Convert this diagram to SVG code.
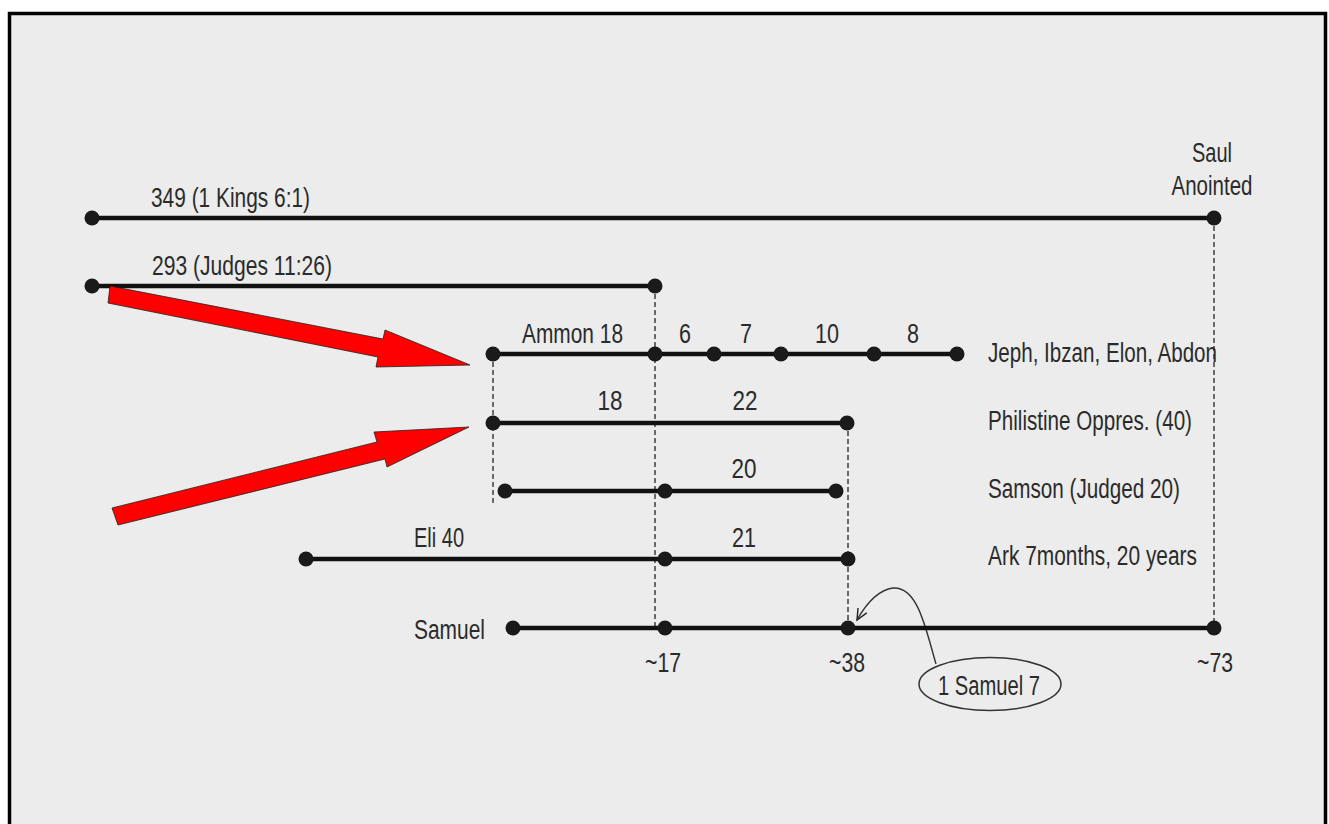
<svg xmlns="http://www.w3.org/2000/svg" width="1329" height="824" viewBox="0 0 1329 824">
<defs>
<style>
.t{font-family:"Liberation Sans",Arial,sans-serif;font-size:27px;fill:#2b2b2b}
.m{text-anchor:middle}
.ln{stroke:#111;stroke-width:4.5;fill:none}
.d{stroke:#333;stroke-width:1.4;stroke-dasharray:5,3;fill:none}
.dot{fill:#1a1a1a}
.red{fill:#ff0000;stroke:#222;stroke-width:0.8}
</style>
<marker id="ah" markerWidth="14" markerHeight="12" refX="12" refY="6" orient="auto" markerUnits="userSpaceOnUse">
<path d="M1,1 L12,6 L1,11" fill="none" stroke="#222" stroke-width="1.4"/>
</marker>
</defs>
<rect x="0" y="0" width="1329" height="824" fill="#ffffff"/>
<rect x="9.5" y="13.5" width="1316" height="830" fill="#ececec" stroke="#000" stroke-width="3.5"/>

<g id="connectors">
<line class="d" x1="1214" y1="218" x2="1214" y2="628"/>
<line class="d" x1="655" y1="286" x2="655" y2="628"/>
<line class="d" x1="493" y1="354" x2="493" y2="503"/>
<line class="d" x1="848" y1="423" x2="848" y2="628"/>
<path d="M936,664 C926,630 918,586 893,588 C878,590 866,604 857,620" fill="none" stroke="#333" stroke-width="1.4" marker-end="url(#ah)"/>
</g>

<g id="row-349">
<line class="ln" x1="92" y1="218" x2="1214" y2="218"/>
<circle class="dot" cx="92" cy="218" r="7.5"/>
<circle class="dot" cx="1214" cy="218" r="7.5"/>
<text class="t" x="151" y="207" textLength="159" lengthAdjust="spacingAndGlyphs">349 (1 Kings 6:1)</text>
</g>

<g id="saul">
<text class="t m" x="1212" y="162" textLength="40" lengthAdjust="spacingAndGlyphs">Saul</text>
<text class="t m" x="1212" y="195" textLength="81" lengthAdjust="spacingAndGlyphs">Anointed</text>
</g>

<g id="row-293">
<line class="ln" x1="92" y1="286" x2="655" y2="286"/>
<circle class="dot" cx="92" cy="286" r="7.5"/>
<circle class="dot" cx="655" cy="286" r="7.5"/>
<text class="t" x="152" y="275" textLength="180" lengthAdjust="spacingAndGlyphs">293 (Judges 11:26)</text>
</g>

<g id="row-judges">
<line class="ln" x1="493" y1="354" x2="957" y2="354"/>
<circle class="dot" cx="493" cy="354" r="7.5"/>
<circle class="dot" cx="655" cy="354" r="7.5"/>
<circle class="dot" cx="714" cy="354" r="7.5"/>
<circle class="dot" cx="781" cy="354" r="7.5"/>
<circle class="dot" cx="874" cy="354" r="7.5"/>
<circle class="dot" cx="957" cy="354" r="7.5"/>
<text class="t" x="522" y="343" textLength="101" lengthAdjust="spacingAndGlyphs">Ammon 18</text>
<text class="t m" x="685" y="343" textLength="12" lengthAdjust="spacingAndGlyphs">6</text>
<text class="t m" x="746" y="343" textLength="12" lengthAdjust="spacingAndGlyphs">7</text>
<text class="t m" x="827" y="343" textLength="24" lengthAdjust="spacingAndGlyphs">10</text>
<text class="t m" x="913" y="343" textLength="12" lengthAdjust="spacingAndGlyphs">8</text>
<text class="t" x="988" y="362" textLength="229" lengthAdjust="spacingAndGlyphs">Jeph, Ibzan, Elon, Abdon</text>
</g>

<g id="row-philistine">
<line class="ln" x1="493" y1="423" x2="847" y2="423"/>
<circle class="dot" cx="493" cy="423" r="7.5"/>
<circle class="dot" cx="847" cy="423" r="7.5"/>
<text class="t m" x="610" y="410" textLength="25" lengthAdjust="spacingAndGlyphs">18</text>
<text class="t m" x="745" y="410" textLength="25" lengthAdjust="spacingAndGlyphs">22</text>
<text class="t" x="988" y="430" textLength="204" lengthAdjust="spacingAndGlyphs">Philistine Oppres. (40)</text>
</g>

<g id="row-samson">
<line class="ln" x1="505" y1="491" x2="836" y2="491"/>
<circle class="dot" cx="505" cy="491" r="7.5"/>
<circle class="dot" cx="665" cy="491" r="7.5"/>
<circle class="dot" cx="836" cy="491" r="7.5"/>
<text class="t m" x="744" y="478" textLength="25" lengthAdjust="spacingAndGlyphs">20</text>
<text class="t" x="988" y="498" textLength="192" lengthAdjust="spacingAndGlyphs">Samson (Judged 20)</text>
</g>

<g id="row-eli">
<line class="ln" x1="306" y1="559" x2="848" y2="559"/>
<circle class="dot" cx="306" cy="559" r="7.5"/>
<circle class="dot" cx="665" cy="559" r="7.5"/>
<circle class="dot" cx="848" cy="559" r="7.5"/>
<text class="t" x="414" y="547" textLength="50" lengthAdjust="spacingAndGlyphs">Eli 40</text>
<text class="t m" x="744" y="547" textLength="24" lengthAdjust="spacingAndGlyphs">21</text>
<text class="t" x="988" y="565" textLength="209" lengthAdjust="spacingAndGlyphs">Ark 7months, 20 years</text>
</g>

<g id="row-samuel">
<line class="ln" x1="513" y1="628" x2="1214" y2="628"/>
<circle class="dot" cx="513" cy="628" r="7.5"/>
<circle class="dot" cx="665" cy="628" r="7.5"/>
<circle class="dot" cx="848" cy="628" r="7.5"/>
<circle class="dot" cx="1214" cy="628" r="7.5"/>
<text class="t" x="414" y="639" textLength="71" lengthAdjust="spacingAndGlyphs">Samuel</text>
<text class="t m" x="663" y="672" textLength="36" lengthAdjust="spacingAndGlyphs">~17</text>
<text class="t m" x="847" y="672" textLength="36" lengthAdjust="spacingAndGlyphs">~38</text>
<text class="t m" x="1215" y="672" textLength="36" lengthAdjust="spacingAndGlyphs">~73</text>
</g>

<g id="note-1samuel7">
<ellipse cx="990" cy="684" rx="71" ry="26.5" fill="none" stroke="#333" stroke-width="1.5"/>
<text class="t m" x="989" y="695" textLength="102" lengthAdjust="spacingAndGlyphs">1 Samuel 7</text>
</g>

<g id="red-arrows">
<polygon class="red" points="110,286 383,339 385,330 470,365 376,367 378,357 108,303"/>
<polygon class="red" points="112,508 377,442 374,432 469,427 387,467 385,459 118,525"/>
</g>
</svg>
